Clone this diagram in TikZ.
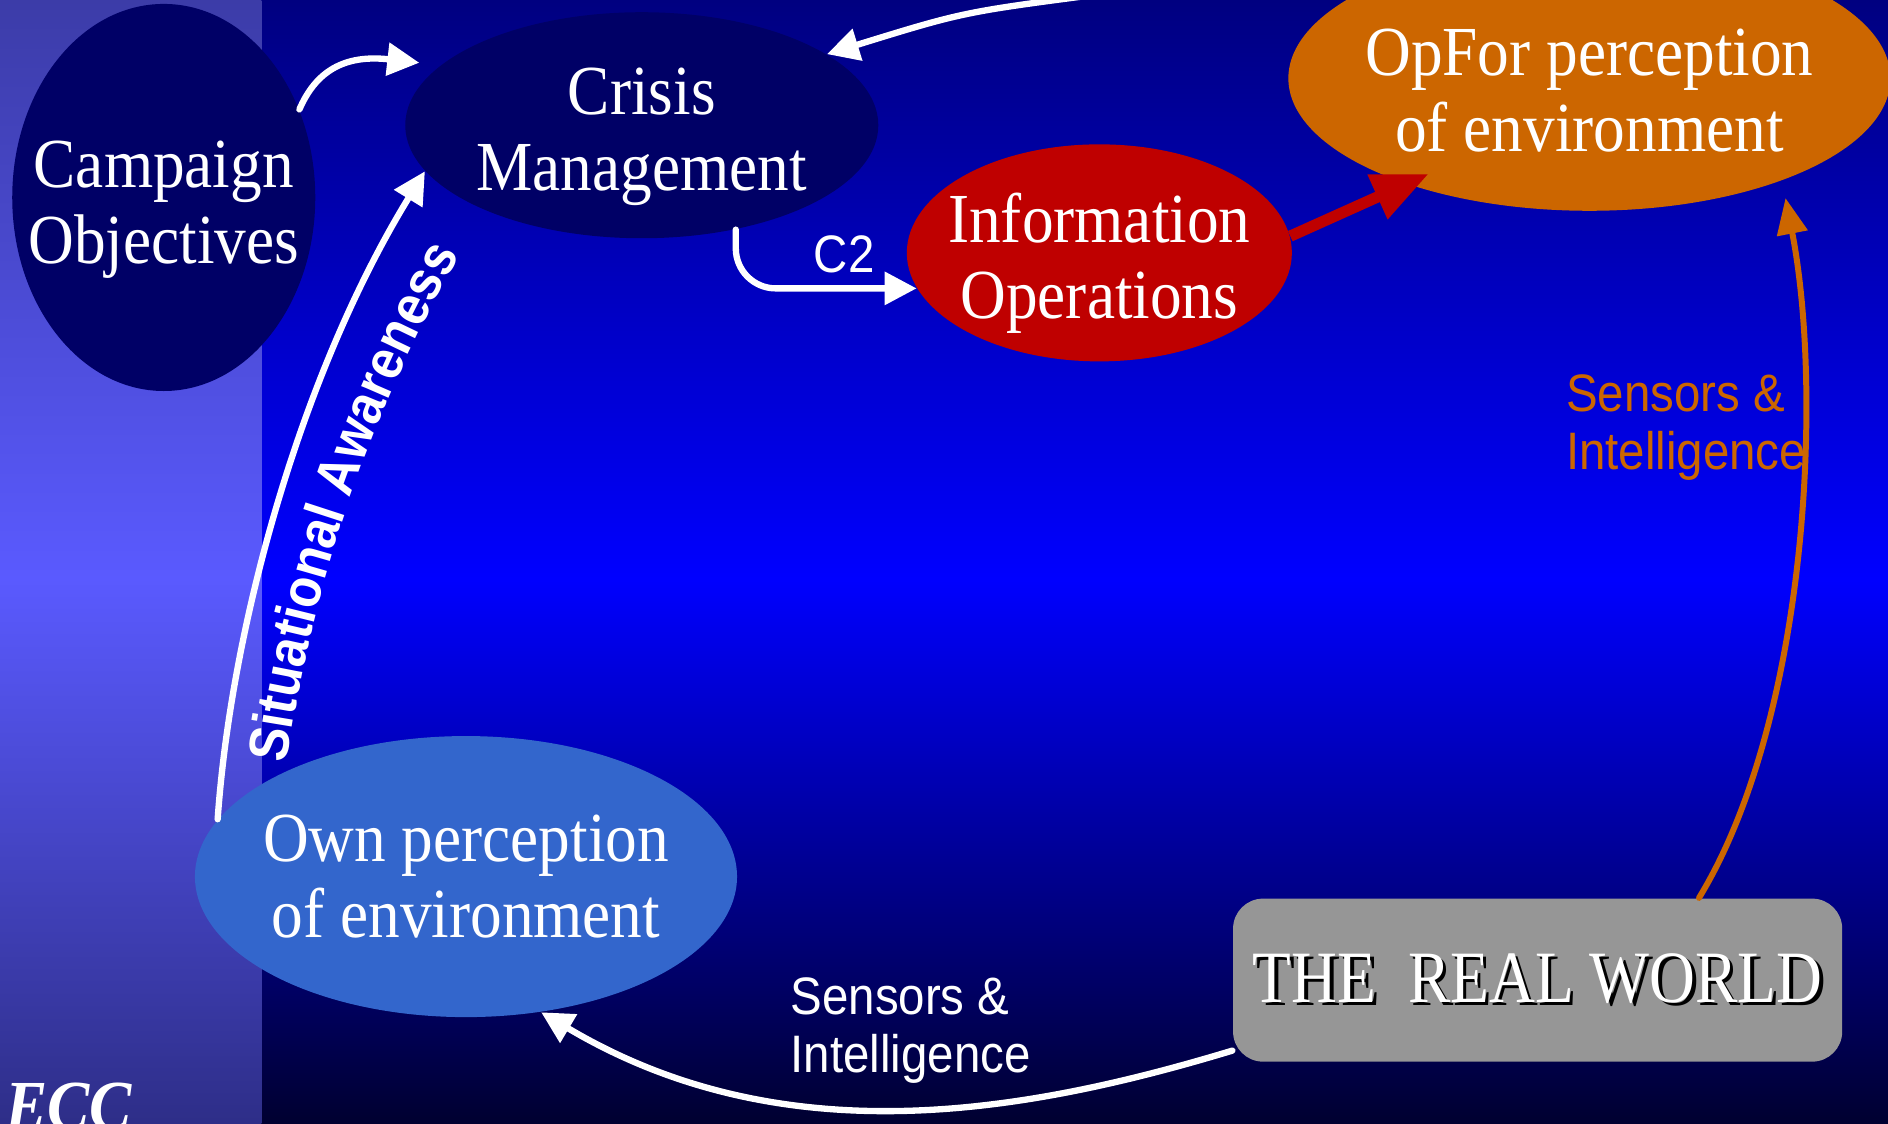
\documentclass[tikz,border=0pt]{standalone}
\usepackage{fontspec}
\setmainfont{Liberation Serif}[FakeStretch=0.9]
\setsansfont{Liberation Sans}[FakeStretch=0.9]
\newfontfamily\worldfont{Liberation Serif}[FakeStretch=0.86]
\usepackage{tikz}
\usetikzlibrary{shapes.geometric,arrows.meta,decorations.text}
\definecolor{ovalnavy}{HTML}{000066}
\definecolor{iored}{HTML}{BF0000}
\definecolor{oporange}{HTML}{CC6600}
\definecolor{ownblue}{HTML}{3366CC}
\definecolor{worldgray}{HTML}{969696}
\definecolor{bgtop}{HTML}{000080}
\definecolor{bgmid}{HTML}{0000FF}
\definecolor{bgbot}{HTML}{000030}
\definecolor{striptop}{HTML}{3C3CA8}
\definecolor{stripmid}{HTML}{5A5AFF}
\definecolor{stripbot}{HTML}{2E2E88}
\newcommand{\lowr}{\rule{0pt}{20pt}}

\begin{document}
\begin{tikzpicture}[x=0.01204cm, y=-0.01204cm,
  blob/.style={ellipse, inner xsep=-2cm, inner ysep=-1cm, text=white, align=center,
    font=\fontsize{20}{21.6}\selectfont},
  wire/.style={white, line width=1.8pt, line cap=round,
    -{Triangle[length=0.32cm, width=0.32cm]}},
  lbl/.style={align=left, inner sep=0pt, anchor=west,
    font=\sffamily\fontsize{15}{16.4}\selectfont}]
%background
  \useasboundingbox (0,0) rectangle (1568,933);
  \shade[top color=bgtop, bottom color=bgmid] (0,0) rectangle (1568,481);
  \shade[top color=bgmid, bottom color=bgbot] (0,480) rectangle (1568,933);
  \shade[top color=striptop, bottom color=stripmid] (0,0) rectangle (217,481);
  \shade[top color=stripmid, bottom color=stripbot] (0,480) rectangle (217,933);

%ellipses
  \node[blob, fill=ovalnavy, minimum width=3.03cm, minimum height=3.87cm] (CO) at (136,164) {\lowr Campaign\\Objectives};
  \node[blob, fill=ovalnavy, minimum width=4.73cm, minimum height=2.26cm] (CM) at (533,104) {\lowr Crisis\\Management};
  \node[blob, fill=iored, minimum width=3.85cm, minimum height=2.17cm] (IO) at (913,210) {\lowr Information\\Operations};
  \node[blob, fill=oporange, minimum width=6.02cm, minimum height=2.65cm] (OP) at (1320,65) {\lowr OpFor perception\\of environment};
  \node[blob, fill=ownblue, minimum width=5.42cm, minimum height=2.81cm] (OW) at (387,728) {Own perception\\of environment};

%the real world
  \node[rounded corners=0.3cm, fill=worldgray, text=white, minimum width=6.09cm, minimum height=1.63cm,
    font=\worldfont\fontsize{21}{24}\selectfont] (RW) at (1277,814)
    {\makebox[0pt][l]{\hspace{1pt}\raisebox{-1pt}{\color{black}THE\ \ REAL WORLD}}THE\ \ REAL WORLD};

%labels
  \node[lbl, white] (SI) at (656,856) {Sensors \&\\Intelligence};
  \node[lbl, oporange] (SO) at (1300,355) {Sensors \&\\Intelligence};
  \node[white, anchor=base west, inner sep=0pt, font=\bfseries\itshape\fontsize{20}{24}\selectfont] (ECC) at (4,938) {ECC};
  \path[decorate, decoration={text along path, text align=center,
    text={|\sffamily\bfseries\fontsize{16}{18}\selectfont\color{white}|Situational Awareness}}]
    (233,684) .. controls (246,525) and (302,335) .. (408,169);

%arrows
  \coordinate (T) at (915,-5);
  \draw[wire] (CO.33) .. controls (262,60) and (285,45) .. ([xshift=-0.12cm, yshift=0.1cm]CM.166);
  \draw[wire] (T) .. controls (800,10) .. (CM.21);
  \draw[wire, rounded corners=0.4cm] (CM.-48) |- node[pos=0.8, above, font=\sffamily\fontsize{15}{16}\selectfont] {C2} (IO.191);
  \draw[wire] (OW.167) .. controls (192,520) and (250,310) .. (CM.192);
  \draw[wire] (RW.193) .. controls (850,925) and (650,960) .. (OW.-61);
  \draw[iored, line width=3.2pt, -{Triangle[length=0.56cm, width=0.46cm]}, shorten >=-7pt] (IO.5) -- (OP.-150);
  \draw[oporange, line width=1.7pt, line cap=round, -{Triangle[length=0.36cm, width=0.3cm]}, shorten >=5pt]
    (RW.27) .. controls (1500,600) and (1515,330) .. (OP.-28);
\end{tikzpicture}
\end{document}
